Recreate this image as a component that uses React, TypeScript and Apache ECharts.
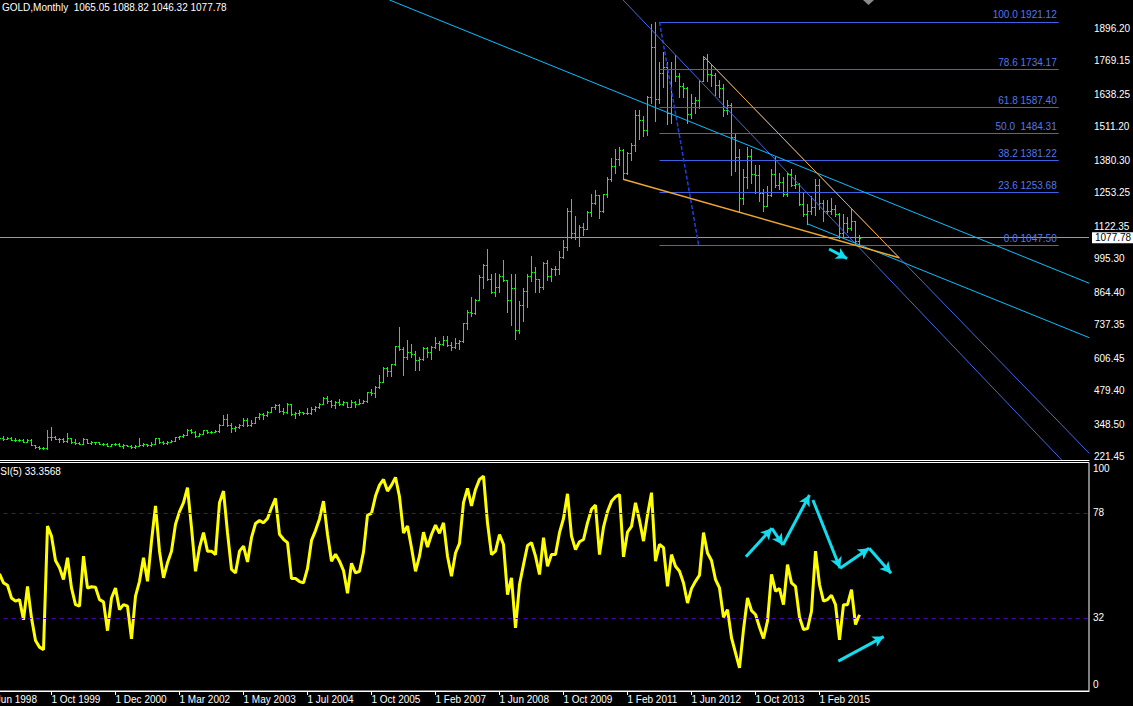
import React, { useEffect, useRef } from "react";
import * as echarts from "echarts";

const FONT = '"Liberation Sans", Arial, sans-serif';

const TITLE = "GOLD,Monthly  1065.05 1088.82 1046.32 1077.78";
const RSI_TITLE = "RSI(5) 33.3568";

// bar index of the first visible bar (bar 0 = 1 Jun 1998)
const FIRST_BAR = 3;
const BARS_PER_LABEL = 16;
const DATE_LABELS = [
  "1 Jun 1998", "1 Oct 1999", "1 Dec 2000", "1 Mar 2002", "1 May 2003", "1 Jul 2004", "1 Oct 2005",
  "1 Feb 2007", "1 Jun 2008", "1 Oct 2009", "1 Feb 2011", "1 Jun 2012", "1 Oct 2013", "1 Feb 2015",
];
const PRICE_TICKS = [221.45, 348.5, 479.4, 606.45, 737.35, 864.4, 995.3, 1122.35, 1253.25, 1380.3, 1511.2, 1638.25, 1769.15, 1896.2];
const RSI_TICKS = [0, 32, 78, 100];
const RSI_LEVELS = [78, 32];
const LAST_CLOSE = 1077.78;

// axis ranges
const X_MIN = 0;
const X_MAX = 275.375;
const PRICE_MIN = 208.56;
const PRICE_MAX = 2006.83;

// monthly bars [open, high, low, close], from bar FIRST_BAR
const OHLC: number[][] = [
  [273, 301, 272, 294], [294, 301, 287, 292], [292, 300, 290, 294], [294, 297, 285, 288], [288, 293, 283, 287],
  [287, 292, 282, 287], [287, 290, 277, 280], [280, 291, 278, 286], [286, 290, 267, 268], [268, 269, 257, 261],
  [261, 263, 253, 255], [255, 260, 252, 254], [254, 326, 252, 299], [299, 338, 285, 299], [299, 301, 289, 292],
  [292, 293, 279, 290], [290, 294, 279, 283], [283, 316, 280, 293], [293, 295, 274, 277], [277, 289, 272, 274],
  [274, 277, 270, 272], [272, 294, 270, 289], [289, 292, 274, 276], [276, 282, 272, 277], [277, 280, 273, 277],
  [277, 278, 270, 273], [273, 274, 268, 272], [272, 274, 263, 264], [264, 272, 263, 270], [270, 275, 267, 273],
  [273, 275, 262, 265], [265, 270, 255, 267], [267, 268, 262, 265], [265, 268, 255, 258], [258, 266, 256, 264],
  [264, 293, 262, 267], [267, 275, 265, 271], [271, 272, 264, 266], [266, 280, 265, 273], [273, 294, 270, 293],
  [293, 294, 276, 278], [278, 281, 272, 275], [275, 281, 273, 277], [277, 285, 277, 282], [282, 298, 281, 297],
  [297, 304, 289, 302], [302, 311, 299, 308], [308, 328, 307, 326], [326, 330, 315, 318], [318, 321, 300, 304],
  [304, 315, 301, 312], [312, 327, 312, 324], [324, 326, 314, 317], [317, 323, 313, 319], [319, 325, 317, 320],
  [320, 349, 318, 347], [347, 383, 345, 368], [368, 389, 343, 347], [347, 352, 319, 334], [334, 341, 322, 336],
  [336, 348, 334, 345], [345, 372, 343, 364], [364, 371, 343, 346], [346, 365, 342, 354], [354, 376, 352, 375],
  [375, 391, 369, 388], [388, 393, 368, 384], [384, 399, 380, 398], [398, 417, 398, 416], [416, 428, 408, 422],
  [422, 428, 397, 400], [400, 410, 390, 396], [396, 432, 392, 427], [427, 428, 383, 388], [388, 396, 371, 393],
  [393, 405, 385, 395], [395, 398, 390, 393], [393, 410, 387, 391], [391, 416, 388, 407], [407, 420, 399, 415],
  [415, 431, 411, 429], [429, 456, 426, 452], [452, 457, 431, 438], [438, 443, 416, 422], [422, 439, 411, 434],
  [434, 448, 423, 428], [428, 439, 422, 435], [435, 436, 414, 417], [417, 443, 414, 436], [436, 438, 417, 429],
  [429, 448, 428, 433], [433, 445, 430, 440], [440, 475, 435, 473],
  [473, 487, 461, 470], [470, 497, 456, 495], [495, 541, 489, 513], [513, 574, 513, 568], [568, 573, 538, 556],
  [556, 585, 535, 582], [582, 654, 578, 654], [654, 730, 640, 643], [643, 651, 542, 613], [613, 676, 605, 632],
  [632, 663, 612, 623], [623, 636, 560, 599], [599, 611, 560, 604], [604, 650, 600, 646], [646, 649, 612, 632],
  [632, 653, 603, 650], [650, 690, 645, 665], [665, 675, 637, 663], [663, 694, 660, 679], [679, 692, 654, 659],
  [659, 669, 640, 650], [650, 684, 646, 665], [665, 679, 643, 672], [672, 744, 670, 743], [743, 795, 722, 789],
  [789, 846, 772, 783], [783, 838, 781, 834], [834, 933, 834, 923], [923, 975, 880, 972], [972, 1032, 911, 916],
  [916, 936, 860, 864], [864, 939, 850, 885], [885, 936, 865, 928], [928, 989, 907, 913], [913, 914, 786, 833],
  [833, 935, 735, 880], [880, 936, 681, 718], [718, 829, 706, 815], [815, 881, 753, 869], [869, 935, 805, 928],
  [928, 1007, 908, 942], [942, 963, 865, 916], [916, 917, 865, 883], [883, 982, 876, 979], [979, 989, 914, 927],
  [927, 961, 907, 955], [955, 966, 932, 955], [955, 1024, 937, 1001], [1001, 1070, 1000, 1040], [1040, 1195, 1030, 1182],
  [1182, 1227, 1076, 1096], [1096, 1161, 1072, 1081], [1081, 1127, 1044, 1118], [1118, 1137, 1088, 1113], [1113, 1181, 1111, 1179],
  [1179, 1250, 1162, 1213], [1213, 1265, 1208, 1244], [1244, 1246, 1155, 1181], [1181, 1250, 1177, 1248], [1248, 1315, 1238, 1307],
  [1307, 1388, 1300, 1357], [1357, 1424, 1330, 1384], [1384, 1431, 1360, 1421], [1421, 1423, 1309, 1332], [1332, 1412, 1325, 1409],
  [1409, 1447, 1381, 1439], [1439, 1575, 1417, 1556], [1556, 1577, 1462, 1536], [1536, 1553, 1477, 1500], [1500, 1632, 1478, 1628],
  [1628, 1912, 1603, 1825], [1825, 1921, 1532, 1620], [1620, 1764, 1604, 1722], [1722, 1804, 1667, 1746], [1746, 1763, 1523, 1565],
  [1565, 1764, 1527, 1737], [1737, 1791, 1689, 1710], [1710, 1720, 1627, 1669], [1669, 1681, 1627, 1664], [1664, 1668, 1527, 1561],
  [1561, 1641, 1546, 1604], [1604, 1627, 1564, 1614], [1614, 1696, 1583, 1691], [1691, 1788, 1689, 1776], [1776, 1796, 1692, 1719],
  [1719, 1755, 1672, 1712], [1712, 1723, 1635, 1675], [1675, 1695, 1627, 1663], [1663, 1677, 1555, 1578], [1578, 1617, 1562, 1596],
  [1596, 1606, 1321, 1472], [1472, 1488, 1338, 1393], [1393, 1424, 1180, 1234], [1234, 1348, 1208, 1313], [1313, 1434, 1271, 1396],
  [1396, 1424, 1291, 1327], [1327, 1361, 1251, 1323], [1323, 1362, 1221, 1253], [1253, 1267, 1182, 1202], [1202, 1280, 1200, 1244],
  [1244, 1345, 1239, 1326], [1326, 1392, 1277, 1284], [1284, 1331, 1268, 1296], [1296, 1315, 1241, 1250], [1250, 1332, 1240, 1327],
  [1327, 1345, 1281, 1282], [1282, 1324, 1273, 1287], [1287, 1293, 1207, 1210], [1210, 1255, 1161, 1172], [1172, 1209, 1132, 1183],
  [1183, 1239, 1170, 1199], [1199, 1307, 1167, 1283], [1283, 1307, 1191, 1213], [1213, 1224, 1142, 1183], [1183, 1225, 1170, 1182],
  [1182, 1232, 1169, 1190], [1190, 1205, 1162, 1172], [1172, 1174, 1077, 1095], [1095, 1170, 1080, 1134], [1134, 1157, 1098, 1115],
  [1115, 1191, 1107, 1142], [1142, 1142, 1052, 1065], [1065.05, 1088.82, 1046.32, 1077.78],
];

// RSI(5), from bar FIRST_BAR
const RSI = [
  51.3, 47.3, 46.3, 40.7, 39.3, 40.0, 31.2, 45.8, 32.0, 22.1, 19.2, 18.1, 72.2, 67.8, 57.1, 53.9, 48.8, 58.3, 45.1, 37.8,
  37.1, 59.0, 45.1, 45.6, 45.4, 40.0, 39.0, 26.4, 40.7, 45.1, 35.6, 37.8, 37.1, 22.8, 41.5, 48.0, 58.3, 48.0, 65.6, 81.0,
  61.2, 49.5, 56.1, 61.2, 73.0, 78.5, 82.4, 89.0, 71.5, 52.4, 62.7, 69.3, 61.2, 61.2, 59.7, 82.4, 87.5, 69.3, 53.2, 51.7,
  61.2, 63.4, 56.5, 67.1, 73.3, 74.6, 73.6, 75.5, 80.2, 84.3, 68.6, 66.4, 64.9, 49.2, 49.2, 47.9, 47.3, 53.6, 65.9, 70.2,
  75.3, 83.1, 68.6, 56.8, 59.9, 56.8, 52.7, 42.8, 55.9, 51.7, 52.4, 60.9, 77.0, 77.7, 85.3, 90.1, 92.6, 87.5, 90.1, 93.5,
  85.0, 69.1, 72.2, 62.7, 52.4, 59.0, 69.5, 63.0, 68.5, 72.6, 69.0, 73.6, 59.0, 50.2, 60.4, 64.6, 82.4, 88.7, 81.0, 88.2,
  92.6, 94.0, 73.6, 59.7, 61.2, 68.5, 64.1, 42.2, 49.5, 27.6, 46.6, 55.3, 63.7, 64.9, 59.0, 51.0, 67.1, 54.6, 59.7, 59.7,
  69.3, 75.5, 86.3, 67.8, 61.9, 65.3, 66.3, 73.6, 79.5, 81.4, 59.7, 71.7, 78.5, 83.0, 85.0, 86.0, 58.7, 69.5, 72.0, 82.4,
  74.7, 65.6, 77.0, 86.8, 56.8, 64.2, 62.7, 45.8, 59.7, 54.6, 52.4, 47.3, 38.5, 44.8, 48.0, 50.7, 69.3, 60.4, 57.1, 48.8,
  45.1, 32.3, 35.6, 23.3, 16.7, 10.1, 26.9, 40.7, 35.2, 33.5, 27.9, 23.0, 30.6, 51.0, 43.7, 44.8, 37.8, 55.3, 47.3, 45.8,
  32.3, 26.9, 27.3, 34.9, 61.2, 46.6, 39.3, 40.0, 41.9, 37.8, 22.4, 37.8, 37.8, 44.4, 29.1, 33.36,
];

// Fibonacci retracement (bar range, levels, captions)
const FIB_RANGE = [168.0, 267.8];
const FIB_LEVELS = [1921.12, 1734.17, 1587.4, 1484.31, 1381.22, 1253.68, 1047.5];
const FIB_NAMES = ["100.0 1921.12", "78.6 1734.17", "61.8 1587.40", "50.0  1484.31", "38.2 1381.22", "23.6 1253.68", "0.0 1047.50"];
const FIB_DIAGONAL = [[168.0, 1921.12], [177.8, 1047.5]];

// trend lines [[bar, price], [bar, price]]
const CYAN_LINES = [
  [[100.5, 2006.8], [275.45, 899.3]],
  [[205.1, 1131.1], [275.45, 686.6]],
];
const BLUE_LINES = [
  [[158.9, 2006.8], [268.55, 208.6]],
  [[179.1, 1785.2], [275.45, 234.7]],
];
const ORANGE_LINES = [
  [[179.1, 1785.2], [227.9, 999.4]],
  [[158.9, 1305.9], [227.9, 999.4]],
];
const PRICE_ARROWS = [[[210.4, 1033.4], [214.9, 996.3]]];

// arrows drawn on the RSI window [[bar, rsi], [bar, rsi]]
const RSI_ARROWS = [
  [[189.6, 58.8], [196.1, 71.2]],
  [[196.1, 71.2], [198.85, 63.9]],
  [[198.85, 63.9], [205.5, 85.8]],
  [[206.35, 83.6], [213.15, 53.7]],
  [[213.15, 53.7], [220.4, 62.5]],
  [[220.4, 62.5], [225.9, 51.5]],
  [[212.7, 13.1], [224.05, 23.8]],
];

const BAR_COLOR = "#1cf01c";
const CYAN = "#00bfff";
const ARROW_CYAN = "#14dcef";
const BLUE = "#4169e1";
const ORANGE = "#eea631";
const FIB_COLOR = "#3d62e3";
const FIB_TEXT = "#5576ea";
const LEVEL_COLOR = "#5000b4";

export default function App() {
  const ref = useRef<HTMLDivElement>(null);

  useEffect(() => {
    document.body.style.margin = "0";
    document.body.style.background = "#000";
    const chart = echarts.init(ref.current as HTMLDivElement, null, { renderer: "svg" });

    const barData = OHLC.map((b, k) => [k + FIRST_BAR, b[0], b[1], b[2], b[3]]);
    const rsiData = RSI.map((r, k) => [k + FIRST_BAR, r]);
    const lastBar = FIRST_BAR + OHLC.length - 1;

    const textBase = { color: "#fff", fontSize: 10, fontFamily: FONT };

    const trend = (pts: number[][], color: string, width: number, type: any = "solid", xi = 0) => ({
      type: "line",
      xAxisIndex: xi,
      yAxisIndex: xi,
      data: pts,
      symbol: "none",
      silent: true,
      clip: true,
      lineStyle: { color, width, type },
      z: 5,
    });

    const arrowSeries = (arrows: number[][][], idx: number) => ({
      type: "line",
      xAxisIndex: idx,
      yAxisIndex: idx,
      data: [],
      symbol: "none",
      silent: true,
      z: 8,
      markLine: {
        silent: true,
        animation: false,
        symbol: ["none", "arrow"],
        symbolSize: [9, 11],
        label: { show: false },
        lineStyle: { color: ARROW_CYAN, width: 3, type: "solid" },
        emphasis: { disabled: true },
        data: arrows.map(([a, b]) => [{ coord: a }, { coord: b }]),
      },
    });

    const option: any = {
      animation: false,
      backgroundColor: "#000",
      textStyle: { fontFamily: FONT },
      grid: [
        { left: -12.5, right: 44, top: 0, height: 460, outerBoundsMode: "none", containLabel: false },
        {
          left: -12.5, right: 44, top: 462.5, height: 228.5, outerBoundsMode: "none", containLabel: false,
          show: true, borderColor: "#fff", borderWidth: 1, backgroundColor: "transparent",
        },
      ],
      xAxis: [
        {
          gridIndex: 0, type: "value", min: X_MIN, max: X_MAX,
          axisLine: { show: true, lineStyle: { color: "#fff", width: 1 } },
          axisTick: { show: false }, axisLabel: { show: false }, splitLine: { show: false },
        },
        {
          gridIndex: 1, type: "value", min: X_MIN, max: X_MAX,
          axisLine: { show: true, lineStyle: { color: "#fff", width: 1 } },
          axisTick: {
            show: true, length: 4, lineStyle: { color: "#fff" },
            customValues: DATE_LABELS.map((_, k) => k * BARS_PER_LABEL),
          },
          axisLabel: {
            ...textBase, align: "left", margin: 3, hideOverlap: false,
            customValues: DATE_LABELS.map((_, k) => k * BARS_PER_LABEL),
            formatter: (v: number) => DATE_LABELS[Math.round(v / BARS_PER_LABEL)] || "",
          },
          splitLine: { show: false },
        },
      ],
      yAxis: [
        {
          gridIndex: 0, type: "value", position: "right", min: PRICE_MIN, max: PRICE_MAX,
          axisLine: { show: true, lineStyle: { color: "#fff", width: 1 } },
          axisTick: { show: true, length: 3, lineStyle: { color: "#fff" }, customValues: PRICE_TICKS },
          axisLabel: { ...textBase, margin: 5, customValues: PRICE_TICKS, formatter: (v: number) => v.toFixed(2) },
          splitLine: { show: false },
        },
        {
          gridIndex: 1, type: "value", position: "right", min: 0, max: 100,
          axisLine: { show: true, lineStyle: { color: "#fff", width: 1 } },
          axisTick: { show: true, length: 3, lineStyle: { color: "#fff" }, customValues: RSI_TICKS },
          axisLabel: {
            ...textBase, margin: 4, customValues: RSI_TICKS,
            formatter: (v: number) => (v === 100 ? "{t|100}" : v === 0 ? "{b|0}" : String(v)),
            rich: {
              t: { ...textBase, padding: [12, 0, 0, 0] },
              b: { ...textBase, padding: [0, 0, 14, 0] },
            },
          },
          splitLine: { show: false },
        },
      ],
      graphic: [
        { type: "text", left: 2, top: 2, silent: true, style: { text: TITLE, fill: "#fff", font: `10px ${FONT}` } },
        { type: "text", x: -7, y: 466, silent: true, style: { text: RSI_TITLE, fill: "#fff", font: `10px ${FONT}` } },
        { type: "polygon", silent: true, shape: { points: [[863, 0], [874, 0], [868.5, 5]] }, style: { fill: "#8a8a8a" } },
      ],
      series: [
        {
          type: "custom",
          name: "GOLD",
          xAxisIndex: 0,
          yAxisIndex: 0,
          data: barData,
          clip: true,
          silent: true,
          encode: { x: 0, y: [1, 2, 3, 4] },
          renderItem: (_params: any, api: any) => {
            const i = api.value(0);
            const ph = api.coord([i, api.value(2)]);
            const pl = api.coord([i, api.value(3)]);
            const po = api.coord([i, api.value(1)]);
            const pc = api.coord([i, api.value(4)]);
            const x = Math.floor(ph[0]);
            const top = Math.round(ph[1]);
            const bottom = Math.max(Math.round(pl[1]), top + 1);
            const oy = Math.round(po[1]);
            const cy = Math.round(pc[1]);
            const style = { fill: BAR_COLOR, stroke: null, lineWidth: 0 };
            return {
              type: "group",
              children: [
                { type: "rect", shape: { x, y: top, width: 1, height: bottom - top + 1 }, style },
                { type: "rect", shape: { x: x - 1, y: oy, width: 1, height: 1 }, style },
                { type: "rect", shape: { x: x + 1, y: cy, width: 1, height: 1 }, style },
              ],
            };
          },
          z: 2,
        },
        {
          type: "line",
          name: "last",
          xAxisIndex: 0,
          yAxisIndex: 0,
          data: [[lastBar, LAST_CLOSE]],
          symbol: "none",
          silent: true,
          lineStyle: { opacity: 0 },
          z: 3,
          markLine: {
            silent: true,
            animation: false,
            symbol: ["none", "none"],
            lineStyle: { color: "#9a9a9a", width: 1, type: "solid" },
            label: {
              show: true, position: "end", distance: 3,
              formatter: () => LAST_CLOSE.toFixed(2),
              color: "#000", backgroundColor: "#fff", padding: [1, 3, 0, 3],
              fontSize: 10, fontFamily: FONT,
            },
            data: [{ yAxis: LAST_CLOSE }],
          },
        },
        {
          ...trend(FIB_DIAGONAL, "#1f3fe0", 1.5, [4, 2]),
          name: "fibo",
          markLine: {
            silent: true,
            animation: false,
            symbol: ["none", "none"],
            lineStyle: { color: FIB_COLOR, width: 1, type: "solid" },
            label: {
              show: true, position: "insideEndTop", distance: 2,
              color: FIB_TEXT, fontSize: 10, fontFamily: FONT,
              formatter: (p: any) => FIB_NAMES[p.dataIndex],
            },
            data: FIB_LEVELS.map((lvl) => [{ coord: [FIB_RANGE[0], lvl] }, { coord: [FIB_RANGE[1], lvl] }]),
          },
        },
        ...BLUE_LINES.map((l) => trend(l, BLUE, 1)),
        ...CYAN_LINES.map((l) => trend(l, CYAN, 1)),
        trend(ORANGE_LINES[0], ORANGE, 1),
        trend(ORANGE_LINES[1], ORANGE, 1.5),
        arrowSeries(PRICE_ARROWS, 0),
        {
          type: "line",
          name: "RSI",
          xAxisIndex: 1,
          yAxisIndex: 1,
          data: rsiData,
          symbol: "none",
          silent: true,
          clip: true,
          lineStyle: { color: "#ffff00", width: 3 },
          z: 4,
          markLine: {
            silent: true,
            animation: false,
            symbol: ["none", "none"],
            label: { show: false },
            lineStyle: { color: LEVEL_COLOR, width: 1, type: [4, 4] },
            data: RSI_LEVELS.map((v) => ({ yAxis: v })),
          },
        },
        arrowSeries(RSI_ARROWS, 1),
      ],
    };

    chart.setOption(option);
    return () => chart.dispose();
  }, []);

  return <div ref={ref} style={{ width: 1133, height: 706, background: "#000" }} />;
}
